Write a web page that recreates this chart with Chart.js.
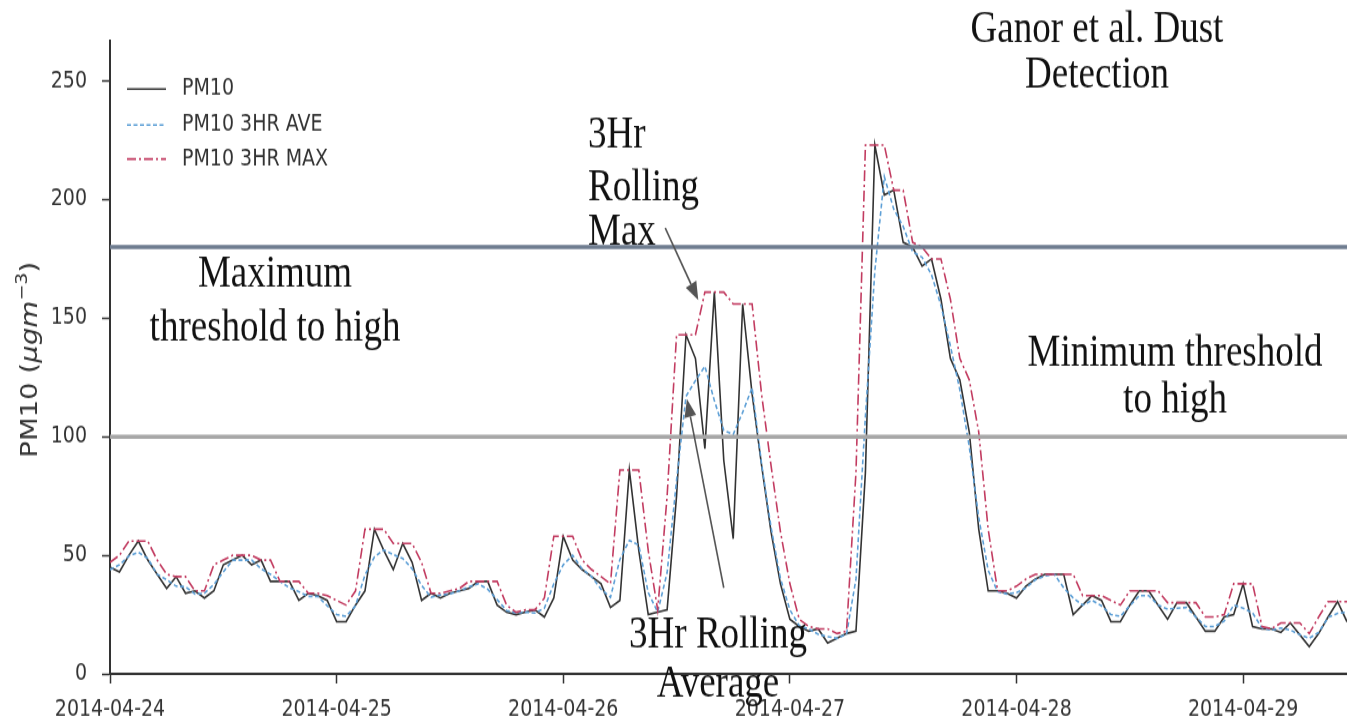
<!DOCTYPE html>
<html>
<head>
<meta charset="utf-8">
<script src="https://cdn.jsdelivr.net/npm/chart.js@4.4.1/dist/chart.umd.min.js"></script>
<style>
html,body{margin:0;padding:0;background:#fff;overflow:hidden}
</style>
</head>
<body>
<canvas id="c" width="1347" height="603" style="display:block;width:1347px;height:723px"></canvas>
<script>
// ---- data (hourly, starting 2014-04-24 00:00) ----
const pm10 = [45,43,50,56,48,42,36,41,34,35, 32,35,46,48,50,46,48,39,39,39, 31,34,33,31,22,22,29,35,61,52,
  44,55,47,31,34,32,34,35,36,39, 39,29,26,25,26,27,24,32,58,48, 44,41,38,28,31,86,52,25,26,27,
  75,143,133,95,161,90,57,156,118,88, 60,38,23,20,18,19,13,15,17,18, 85,223,202,204,182,180,172,175,158,133,
  124,102,61,35,35,34,32,37,40,42, 42,42,25,29,33,31,22,22,29,35, 35,29,23,30,30,24,18,18,24,25,
  38,20,19,19,17.5,21.5,16.5,11.5,17,24, 30.5,22];
const ave3hr = [44,46,49.7,51.3,48.7,42,39.7,37,36.7,33.7, 34,37.7,43,48,48,48,44.3,42,39,36.3,
  34.7,32.7,32.7,28.7,25,24.3,28.7,41.7,49.3,52.3, 50.3,48.7,44.3,37.3,32.3,33.3,33.7,35,36.7,38,
  35.7,31.3,26.7,25.7,26,25.7,27.7,38,46,50, 44.3,41,35.7,32.3,48.3,56.3,54.3,34.3,26,42.7,
  81.7,117,123.7,129.7,115.3,102.7,101,110.3,120.7,88.7, 62,40.3,27,20.3,19,16.7,15.7,15,16.7,40,
  108.7,170,209.7,196,188.7,178,175.7,168.3,155.3,138.3, 119.7,95.7,66,43.7,34.7,33.7,34.3,36.3,39.7,41.3,
  42,36.3,32,29,31,28.7,25,24.3,28.7,33, 33,29,27.3,27.7,28,24,20,20,22.3,29,
  27.7,25.7,19.3,18.5,19.3,18.5,16.5,15,17.5,23.8, 25.5,26];
const max3hr = [47,50,56,56,56,48,42,41,41,35, 35,46,48,50,50,50,48,48,39,39, 39,34,34,33,31,29,35,61,61,61,
  55,55,55,47,34,34,35,36,39,39, 39,39,29,26,27,27,32,58,58,58, 48,44,41,38,86,86,86,52,27,75,
  143,143,143,161,161,161,156,156,156,118, 88,60,38,23,20,19,19,17,18,85, 223,223,223,204,204,182,180,175,175,158,
  133,124,102,61,35,35,37,40,42,42, 42,42,42,33,33,33,31,29,35,35, 35,35,30,30,30,30,24,24,25,38,
  38,38,20,19,21.5,21.5,21.5,17,24,30.5, 30.5,30.5];
const dateLabels = ['2014-04-24','2014-04-25','2014-04-26','2014-04-27','2014-04-28','2014-04-29'];
const yTicks = [0,50,100,150,200,250];
const maxThreshold = 180;
const minThreshold = 100;
const seriesNames = ['PM10','PM10 3HR AVE','PM10 3HR MAX'];

const HOURS_PER_DAY = 24;
const X_MAX = 131;
const Y_MAX = 267;
const S = 723/603; // vertical display stretch

const hourIndex = pm10.map((_, i) => i);
const toXY = arr => arr.map((v, i) => ({x: hourIndex[i], y: v}));

const overlay = {
  id: 'overlay',
  afterDraw(chart) {
    const c = chart.ctx, xs = chart.scales.x, ys = chart.scales.y;
    c.save();
    // legend
    const rows = [[4, 74.2], [3, 104.3], [2, 132.6]];
    rows.forEach(([di, y]) => {
      const ds = chart.data.datasets[di];
      c.beginPath();
      c.setLineDash(ds.borderDash || []);
      c.strokeStyle = ds.borderColor;
      c.lineWidth = ds.borderWidth;
      c.moveTo(127, y); c.lineTo(166, y); c.stroke();
      c.setLineDash([]);
      c.fillStyle = '#333';
      c.font = '19px "DejaVu Sans"';
      c.textAlign = 'left';
      c.textBaseline = 'middle';
      c.fillText(ds.label, 182, y);
    });

    // y title
    c.save();
    c.translate(31, 300);
    c.rotate(-Math.PI / 2);
    const parts = [
      ['PM10 (', '23px "DejaVu Sans"', 0],
      ['\u03bcgm', 'italic 23px "DejaVu Sans"', 0],
      ['\u22123', '16px "DejaVu Sans"', -8],
      [')', '23px "DejaVu Sans"', 0]
    ];
    let total = 0;
    parts.forEach(p => { c.font = p[1]; total += c.measureText(p[0]).width; });
    let px = -total / 2;
    c.fillStyle = '#333';
    c.textBaseline = 'middle';
    c.textAlign = 'left';
    parts.forEach(p => { c.font = p[1]; c.fillText(p[0], px, p[2]); px += c.measureText(p[0]).width; });
    c.restore();

    // annotation texts
    c.fillStyle = '#111';
    c.font = '37px "Liberation Serif"';
    c.textBaseline = 'alphabetic';
    const notes = [
      ['Ganor et al. Dust', 1097, 42, 'center'],
      ['Detection', 1097, 87, 'center'],
      ['3Hr', 588, 147, 'left'],
      ['Rolling', 588, 200, 'left'],
      ['Max', 588, 244, 'left'],
      ['Maximum', 275, 287, 'center'],
      ['threshold to high', 275, 340, 'center'],
      ['Minimum threshold', 1175, 366, 'center'],
      ['to high', 1175, 412, 'center'],
      ['3Hr Rolling', 718, 648, 'center'],
      ['Average', 718, 697, 'center']
    ];
    notes.forEach(([t, x, y, a]) => { c.textAlign = a; c.fillText(t, x, y / S); });

    // arrows (data coordinates: hour, value)
    const arrows = [[58.8, 188, 62.3, 157.7], [65.0, 36.3, 61.1, 115.9]];
    arrows.forEach(([h0, v0, h1, v1]) => {
      const x0 = xs.getPixelForValue(h0), y0 = ys.getPixelForValue(v0);
      const x1 = xs.getPixelForValue(h1), y1 = ys.getPixelForValue(v1);
      const ang = Math.atan2(y1 - y0, x1 - x0);
      const L = 15, W = 6;
      const bx = x1 - L * Math.cos(ang), by = y1 - L * Math.sin(ang);
      c.strokeStyle = '#555'; c.lineWidth = 1.6;
      c.beginPath(); c.moveTo(x0, y0); c.lineTo(bx, by); c.stroke();
      c.fillStyle = '#555';
      c.beginPath();
      c.moveTo(x1, y1);
      c.lineTo(bx + W * Math.sin(ang), by - W * Math.cos(ang));
      c.lineTo(bx - W * Math.sin(ang), by + W * Math.cos(ang));
      c.closePath(); c.fill();
    });
    c.restore();
  }
};

const tickFont = {family: 'DejaVu Sans', size: 19};

new Chart(document.getElementById('c'), {
  type: 'line',
  data: {
    datasets: [
      {label: 'Maximum threshold', data: [{x: 0, y: maxThreshold}, {x: X_MAX, y: maxThreshold}], borderColor: '#6f7d90', borderWidth: 3.4, pointRadius: 0},
      {label: 'Minimum threshold', data: [{x: 0, y: minThreshold}, {x: X_MAX, y: minThreshold}], borderColor: '#a7a7a7', borderWidth: 3.4, pointRadius: 0},
      {label: seriesNames[2], data: toXY(max3hr), borderColor: '#c23b60', borderWidth: 1.6, borderDash: [9, 3, 2, 3], pointRadius: 0},
      {label: seriesNames[1], data: toXY(ave3hr), borderColor: '#5d9fd6', borderWidth: 1.6, borderDash: [4, 2.5], pointRadius: 0},
      {label: seriesNames[0], data: toXY(pm10), borderColor: '#333333', borderWidth: 1.6, pointRadius: 0}
    ]
  },
  options: {
    responsive: false,
    animation: false,
    devicePixelRatio: 1,
    layout: {padding: {top: 34, right: 0, bottom: 0, left: 0}},
    plugins: {legend: {display: false}, tooltip: {enabled: false}},
    elements: {line: {tension: 0, fill: false}},
    scales: {
      x: {
        type: 'linear', min: 0, max: X_MAX,
        afterBuildTicks: s => { s.ticks = dateLabels.map((_, i) => ({value: i * HOURS_PER_DAY})); },
        afterFit: s => { s.height = 41; },
        ticks: {callback: (v, i) => dateLabels[i], font: tickFont, color: '#333', padding: 11, maxRotation: 0, autoSkip: false},
        grid: {display: true, drawOnChartArea: false, drawTicks: true, tickLength: 8, tickWidth: 1.5, tickColor: '#333'},
        border: {display: true, color: '#333', width: 2}
      },
      y: {
        type: 'linear', min: 0, max: Y_MAX,
        afterBuildTicks: s => { s.ticks = yTicks.map(v => ({value: v})); },
        afterFit: s => { s.width = 110; },
        ticks: {font: tickFont, color: '#333', padding: 15},
        grid: {display: true, drawOnChartArea: false, drawTicks: true, tickLength: 8, tickWidth: 1.5, tickColor: '#333'},
        border: {display: true, color: '#333', width: 2}
      }
    }
  },
  plugins: [overlay]
});
</script>
</body>
</html>
